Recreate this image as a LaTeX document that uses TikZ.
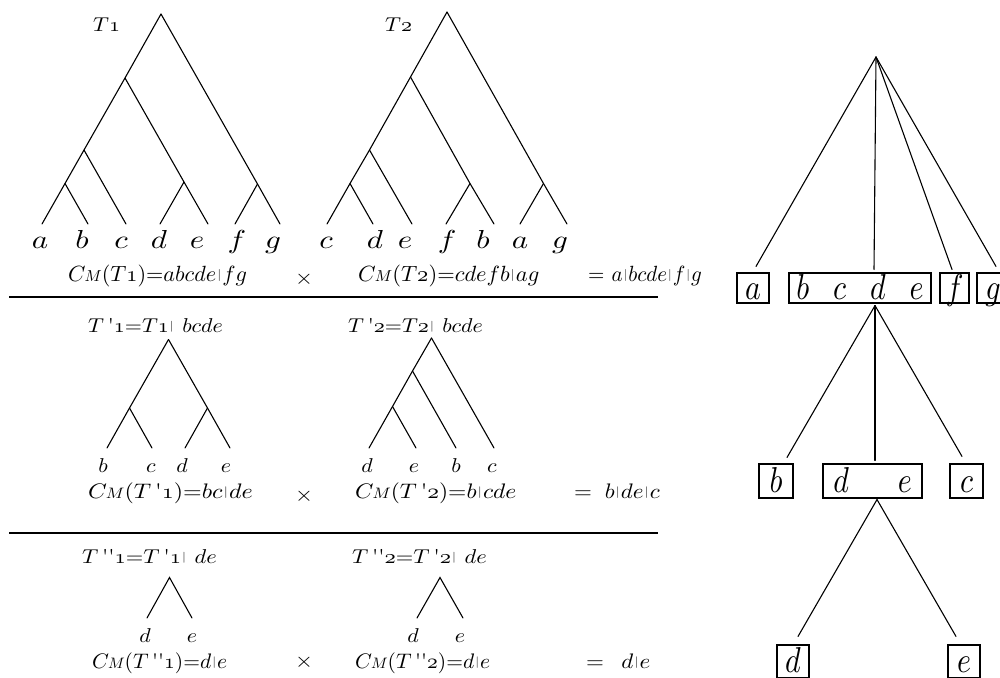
\documentclass[tikz,border=0pt]{standalone}
\usepackage{graphicx}
\newcommand\vb{\kern.06em\raisebox{0.12em}{\scalebox{0.55}{|}}\kern.06em}
\newcommand\one{$\mathnormal{1}$}
\newcommand\two{$\mathnormal{2}$}
\newcommand\pr{\,\textquotesingle}
\newcommand\ppr{\,\textquotesingle\textquotesingle}
\newcommand\CM{$C$\kern-0.5pt\scalebox{0.72}{$M$}}
\newcommand\sx[3]{\scalebox{#1}[#2]{#3}}
\tikzset{
  edge/.style={line width=1.1pt, line cap=round},
  rule/.style={line width=1.4pt},
  lbl/.style={anchor=base, inner sep=0pt},
  txt/.style={anchor=base west, inner sep=0pt},
  timesym/.style={inner sep=0pt},
  leafbox/.style={draw, line width=1.1pt, inner sep=0pt, text height=26pt, text depth=4pt, minimum width=32pt},
}
\begin{document}
\begin{tikzpicture}[x=1pt,y=-1pt]
\useasboundingbox (0,0) rectangle (1000,677);
% ---------- T1 ----------
\node[txt] (t1lab) at (93,32) {\sx{2.2}{2.0}{$T$\one}};
\coordinate (t1r) at (161,14);
\coordinate (t1n1) at (125,78);
\coordinate (t1n2) at (84,150);
\coordinate (t1n3) at (65,183.5);
\coordinate (t1n4) at (184,182);
\coordinate (t1n5) at (257.5,184);
\coordinate (t1a) at (42,224);
\coordinate (t1b) at (88,224);
\coordinate (t1c) at (126,224);
\coordinate (t1d) at (160,224);
\coordinate (t1e) at (208,224);
\coordinate (t1f) at (235,224);
\coordinate (t1g) at (280,224);
\draw[edge] (t1r)--(t1n1)--(t1n2)--(t1n3)--(t1a);
\draw[edge] (t1n3)--(t1b);
\draw[edge] (t1n2)--(t1c);
\draw[edge] (t1n1)--(t1n4)--(t1e);
\draw[edge] (t1n4)--(t1d);
\draw[edge] (t1r)--(t1n5)--(t1g);
\draw[edge] (t1n5)--(t1f);
\node[lbl] (l1a) at (40,248) {\sx{3.1}{2.6}{$a$}};
\node[lbl] (l1b) at (82,248) {\sx{3.1}{2.6}{$b$}};
\node[lbl] (l1c) at (121,248) {\sx{3.1}{2.6}{$c$}};
\node[lbl] (l1d) at (159,248) {\sx{3.1}{2.6}{$d$}};
\node[lbl] (l1e) at (197,248) {\sx{3.1}{2.6}{$e$}};
\node[lbl] (l1f) at (237,248) {\sx{3.1}{2.6}{$f$}};
\node[lbl] (l1g) at (273,248) {\sx{3.1}{2.6}{$g$}};
% ---------- T2 ----------
\node[txt] (t2lab) at (385,32) {\sx{2.2}{2.0}{$T$\two}};
\coordinate (t2r) at (447,12);
\coordinate (t2n1) at (410.5,77);
\coordinate (t2n2) at (369.5,150);
\coordinate (t2n3) at (350,183.5);
\coordinate (t2n4) at (470,183.5);
\coordinate (t2n5) at (543.5,183.5);
\coordinate (t2c) at (327,224);
\coordinate (t2d) at (373,224);
\coordinate (t2e) at (412,224);
\coordinate (t2f) at (446,224);
\coordinate (t2b) at (494,224);
\coordinate (t2a) at (520,224);
\coordinate (t2g) at (567,224);
\draw[edge] (t2r)--(t2n1)--(t2n2)--(t2n3)--(t2c);
\draw[edge] (t2n3)--(t2d);
\draw[edge] (t2n2)--(t2e);
\draw[edge] (t2n1)--(t2n4)--(t2b);
\draw[edge] (t2n4)--(t2f);
\draw[edge] (t2r)--(t2n5)--(t2g);
\draw[edge] (t2n5)--(t2a);
\node[lbl] (l2c) at (326,248) {\sx{3.1}{2.6}{$c$}};
\node[lbl] (l2d) at (375,248) {\sx{3.1}{2.6}{$d$}};
\node[lbl] (l2e) at (405,248) {\sx{3.1}{2.6}{$e$}};
\node[lbl] (l2f) at (447,248) {\sx{3.1}{2.6}{$f$}};
\node[lbl] (l2b) at (483,248) {\sx{3.1}{2.6}{$b$}};
\node[lbl] (l2a) at (520,248) {\sx{3.1}{2.6}{$a$}};
\node[lbl] (l2g) at (560,248) {\sx{3.1}{2.6}{$g$}};
% ---------- row 1 formulas ----------
\node[txt] (f1a) at (68,281) {\sx{2.22}{2.2}{\CM$(T$\one$)$=$abcde$\vb$fg$}};
\node[timesym] (x1) at (304,279) {\sx{2.3}{2.1}{$\times$}};
\node[txt] (f1b) at (358,281) {\sx{2.25}{2.2}{\CM$(T$\two$)$=$cdefb$\vb$ag$}};
\node[txt] (f1c) at (588,281) {\sx{2.1}{2.2}{=\ $a$\vb$bcde$\vb$f$\vb$g$}};
\coordinate (h1a) at (9,297);
\coordinate (h1b) at (658,297);
\draw[rule] (h1a)--(h1b);
% ---------- row 2 ----------
\node[txt] (h2a) at (88,332) {\sx{2.2}{2.0}{$T$\pr\one=$T$\one\vb\ $bcde$}};
\coordinate (s1r) at (168.5,339.5);
\coordinate (s1n1) at (129.5,408);
\coordinate (s1n2) at (207.5,408);
\coordinate (s1b) at (107,448);
\coordinate (s1c) at (152,448);
\coordinate (s1d) at (185,448);
\coordinate (s1e) at (230,448);
\draw[edge] (s1r)--(s1n1)--(s1b);
\draw[edge] (s1n1)--(s1c);
\draw[edge] (s1r)--(s1n2)--(s1e);
\draw[edge] (s1n2)--(s1d);
\node[lbl] (m1b) at (103,472) {\sx{2.2}{2.0}{$b$}};
\node[lbl] (m1c) at (151,472) {\sx{2.2}{2.0}{$c$}};
\node[lbl] (m1d) at (182,472) {\sx{2.2}{2.0}{$d$}};
\node[lbl] (m1e) at (226,472) {\sx{2.2}{2.0}{$e$}};
\node[txt] (h2b) at (348,332) {\sx{2.2}{2.0}{$T$\pr\two=$T$\two\vb\ $bcde$}};
\coordinate (s2r) at (431.5,338);
\coordinate (s2n1) at (412.5,371);
\coordinate (s2n2) at (392.5,406.5);
\coordinate (s2d) at (369,448);
\coordinate (s2e) at (416,448);
\coordinate (s2b) at (456,448);
\coordinate (s2c) at (494,448);
\draw[edge] (s2r)--(s2n1)--(s2n2)--(s2d);
\draw[edge] (s2n2)--(s2e);
\draw[edge] (s2n1)--(s2b);
\draw[edge] (s2r)--(s2c);
\node[lbl] (m2d) at (367,472) {\sx{2.2}{2.0}{$d$}};
\node[lbl] (m2e) at (414,472) {\sx{2.2}{2.0}{$e$}};
\node[lbl] (m2b) at (456,472) {\sx{2.2}{2.0}{$b$}};
\node[lbl] (m2c) at (492,472) {\sx{2.2}{2.0}{$c$}};
\node[txt] (f2a) at (88,498) {\sx{2.4}{2.1}{\CM$(T$\pr\one$)$=$bc$\vb$de$}};
\node[timesym] (x2) at (304,496) {\sx{2.3}{2.1}{$\times$}};
\node[txt] (f2b) at (355,498) {\sx{2.35}{2.1}{\CM$(T$\pr\two$)$=$b$\vb$cde$}};
\node[txt] (f2c) at (574,498) {\sx{2.3}{2.1}{=\hspace{0.55em}$b$\vb$de$\vb$c$}};
\coordinate (h2l) at (9,533);
\coordinate (h2r) at (658,533);
\draw[rule] (h2l)--(h2r);
% ---------- row 3 ----------
\node[txt] (h3a) at (82,563) {\sx{2.25}{2.0}{$T$\ppr\one=$T$\pr\one\vb\ $de$}};
\coordinate (u1r) at (169.5,577.5);
\coordinate (u1d) at (147,618);
\coordinate (u1e) at (192,618);
\draw[edge] (u1d)--(u1r)--(u1e);
\node[lbl] (k1d) at (145,642) {\sx{2.2}{2.0}{$d$}};
\node[lbl] (k1e) at (192,642) {\sx{2.2}{2.0}{$e$}};
\node[txt] (h3b) at (352,563) {\sx{2.25}{2.0}{$T$\ppr\two=$T$\pr\two\vb\ $de$}};
\coordinate (u2r) at (440,577.5);
\coordinate (u2d) at (417,618);
\coordinate (u2e) at (463,618);
\draw[edge] (u2d)--(u2r)--(u2e);
\node[lbl] (k2d) at (413,642) {\sx{2.2}{2.0}{$d$}};
\node[lbl] (k2e) at (460,642) {\sx{2.2}{2.0}{$e$}};
\node[txt] (f3a) at (92,668) {\sx{2.15}{2.1}{\CM$(T$\ppr\one$)$=$d$\vb$e$}};
\node[timesym] (x3) at (304,662) {\sx{2.3}{2.1}{$\times$}};
\node[txt] (f3b) at (355,668) {\sx{2.15}{2.1}{\CM$(T$\ppr\two$)$=$d$\vb$e$}};
\node[txt] (f3c) at (586,668) {\sx{2.3}{2.1}{=\hspace{0.75em}$d$\vb$e$}};
% ---------- right tree ----------
\coordinate (r) at (876,57);
\node[leafbox, minimum height=30pt] (ba) at (753,288) {\sx{3}{3.6}{$a$}};
\node[leafbox, minimum height=30pt, minimum width=142pt] (bbcde) at (860,288) {\sx{3}{3.6}{$b$\hspace{8pt}$c$\hspace{8pt}$d$\hspace{8pt}$e$}};
\node[leafbox, minimum height=30pt, minimum width=29pt] (bf) at (954.5,288) {\sx{3}{3.6}{$f$}};
\node[leafbox, minimum height=30pt] (bg) at (993,288) {\sx{3}{3.6}{$g$}};
\draw[edge] (r)--([xshift=3pt,yshift=6pt]ba.north);
\draw[edge] (r)--([xshift=14pt,yshift=3pt]bbcde.north);
\draw[edge] (r)--([xshift=-2.5pt,yshift=3pt]bf.north);
\draw[edge] (r)--([xshift=3pt,yshift=6pt]bg.north);
\node[leafbox, minimum height=34pt, minimum width=34pt] (bb) at (776,481) {\sx{3}{3.6}{$b$}};
\node[leafbox, minimum height=34pt, minimum width=99pt] (bde) at (872.5,481) {\sx{3}{3.6}{$d$\hspace{16.3pt}$e$}};
\node[leafbox, minimum height=34pt, minimum width=33pt] (bc) at (966.5,481) {\sx{3}{3.6}{$c$}};
\coordinate (p1) at ([xshift=15pt,yshift=-2pt]bbcde.south);
\draw[edge] (p1)--([xshift=11pt,yshift=6pt]bb.north);
\draw[edge] (p1)--([xshift=2.5pt,yshift=3pt]bde.north);
\draw[edge] (p1)--([xshift=-4.5pt,yshift=7pt]bc.north);
\node[leafbox, minimum height=33pt] (bd) at (793,661.5) {\sx{3}{3.6}{$d$}};
\node[leafbox, minimum height=33pt] (be) at (964,661.5) {\sx{3}{3.6}{$e$}};
\coordinate (p2) at ([xshift=4.5pt,yshift=-1pt]bde.south);
\draw[edge] (p2)--([xshift=5pt,yshift=8pt]bd.north);
\draw[edge] (p2)--([xshift=-8pt,yshift=8pt]be.north);
\end{tikzpicture}
\end{document}
